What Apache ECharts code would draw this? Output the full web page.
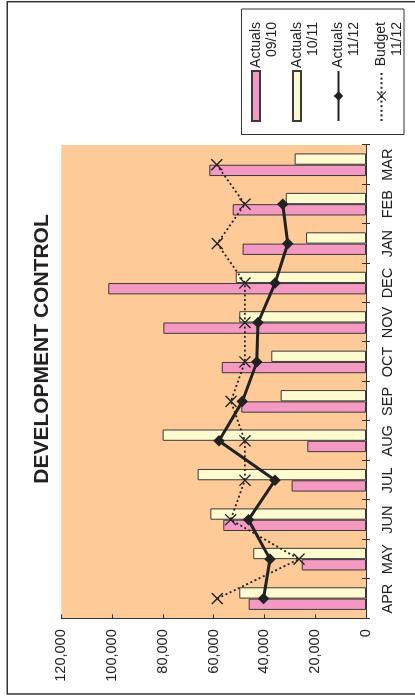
<!DOCTYPE html>
<html>
<head>
<meta charset="utf-8">
<script src="https://cdn.jsdelivr.net/npm/echarts@6/dist/echarts.min.js"></script>
<style>
  html, body { margin: 0; padding: 0; background: #fff; overflow: hidden; width: 415px; height: 698px; }
  /* The chart is laid out landscape and turned a quarter turn to sit on the portrait page */
  #chart { position: absolute; left: 0; top: 0; width: 698px; height: 415px;
           transform-origin: 0 0; transform: translate(0, 698px) rotate(-90deg); }
</style>
</head>
<body>
<div id="chart"></div>
<script>
// Months of the financial year
const months = ['APR', 'MAY', 'JUN', 'JUL', 'AUG', 'SEP', 'OCT', 'NOV', 'DEC', 'JAN', 'FEB', 'MAR'];

// Monthly figures
const actuals0910 = [46200, 25300, 56200, 29300, 23100, 49100, 56800, 79800, 101500, 48600, 52500, 61700];
const actuals1011 = [49900, 44400, 61300, 66300, 80100, 33600, 37300, 49900, 51300, 23600, 31600, 28100];
const actuals1112 = [40400, 37800, 46300, 35800, 57900, 48700, 43000, 42500, 35800, 30800, 32800, null];
const budget1112  = [58600, 26400, 53300, 47700, 47700, 53200, 47700, 47700, 47700, 58600, 47700, 58800];

// Value axis ticks
const valueTicks = [0, 20000, 40000, 60000, 80000, 100000, 120000];

const seriesNames = ['Actuals 09/10', 'Actuals 10/11', 'Actuals 11/12', 'Budget 11/12'];

const FONT = '"Liberation Sans", Arial, sans-serif';
const INK = '#222';
const crossPath = 'path://M0,0.8L0.8,0L10,9.2L9.2,10Z M9.2,0L10,0.8L0.8,10L0,9.2Z';

const chart = echarts.init(document.getElementById('chart'), null, { renderer: 'canvas' });

// One single-item legend per series so each entry can sit at its own row
const legendRows = [256, 297, 338.5, 381.5];
const legends = seriesNames.map((name, i) => {
  const entry = {
    data: [name],
    orient: 'vertical',
    left: 576,
    top: legendRows[i] - 24,
    padding: 0,
    itemGap: 0,
    itemWidth: 50,
    itemHeight: i < 2 ? 8 : 12,
    selectedMode: false,
    textStyle: {
      color: INK, fontFamily: FONT, fontSize: 14, lineHeight: 16,
      rich: { t: { color: INK, fontFamily: FONT, fontSize: 14, lineHeight: 16, align: 'right', width: 44 } }
    },
    formatter: (n) => {
      const parts = n.split(' ');
      return ' \n{t|' + parts[0] + '}\n{t|' + parts[1] + '}';
    }
  };
  if (i < 2) entry.icon = 'rect';
  return entry;
});

const option = {
  animation: false,
  backgroundColor: '#fff',
  title: {
    text: 'DEVELOPMENT CONTROL',
    left: 'center',
    top: 27,
    textStyle: { color: INK, fontFamily: FONT, fontSize: 21, fontWeight: 'bold' }
  },
  legend: legends,
  graphic: [
    { type: 'rect', z: 100, silent: true,
      shape: { x: 4, y: 7.3, width: 692.3, height: 440 },
      style: { fill: 'none', stroke: '#333', lineWidth: 1.5 } },
    { type: 'rect', z: 100, silent: true,
      shape: { x: 563.5, y: 241.5, width: 125.5, height: 162.5 },
      style: { fill: 'none', stroke: '#333', lineWidth: 1 } }
  ],
  grid: {
    left: 79.7, right: 145, top: 61.3, bottom: 49,
    show: true, backgroundColor: '#FDCA98', borderWidth: 0
  },
  xAxis: [
    {
      type: 'category',
      data: months,
      boundaryGap: true,
      axisLine: { lineStyle: { color: '#333', width: 1 } },
      axisTick: { show: true, interval: 0, length: 4, lineStyle: { color: '#333' } },
      axisLabel: { interval: 0, color: INK, fontFamily: FONT, fontSize: 14.5, margin: 14 },
      splitLine: { show: false }
    },
    {
      type: 'category',
      data: months,
      position: 'bottom',
      boundaryGap: true,
      axisLine: { show: false },
      axisTick: { show: true, interval: 0, inside: true, length: 4, lineStyle: { color: '#333' } },
      axisLabel: { show: false },
      splitLine: { show: false }
    }
  ],
  yAxis: {
    type: 'value',
    min: valueTicks[0],
    max: valueTicks[valueTicks.length - 1],
    interval: valueTicks[1] - valueTicks[0],
    axisLine: { show: true, lineStyle: { color: '#333', width: 1 } },
    axisTick: { show: true, inside: true, length: 4, lineStyle: { color: '#333' } },
    axisLabel: {
      color: INK, fontFamily: FONT, fontSize: 14.5, margin: 11,
      formatter: (v) => v.toLocaleString('en-US')
    },
    splitLine: { show: false }
  },
  series: [
    {
      name: seriesNames[0], type: 'bar', data: actuals0910,
      barWidth: 11.3, barGap: '0%',
      itemStyle: { color: '#F49AC2', borderColor: '#3a3a3a', borderWidth: 1 }
    },
    {
      name: seriesNames[1], type: 'bar', data: actuals1011,
      barWidth: 11.3, barGap: '0%',
      itemStyle: { color: '#FDFBCF', borderColor: '#3a3a3a', borderWidth: 1 }
    },
    {
      name: seriesNames[3], type: 'line', data: budget1112, z: 3,
      symbol: crossPath, symbolSize: 12,
      lineStyle: { color: INK, width: 1.8, type: [2, 2.6] },
      itemStyle: { color: INK }
    },
    {
      name: seriesNames[2], type: 'line', data: actuals1112, z: 4,
      symbol: 'diamond', symbolSize: 11.5, connectNulls: false,
      lineStyle: { color: INK, width: 3 },
      itemStyle: { color: INK }
    }
  ]
};

chart.setOption(option);
</script>
</body>
</html>
